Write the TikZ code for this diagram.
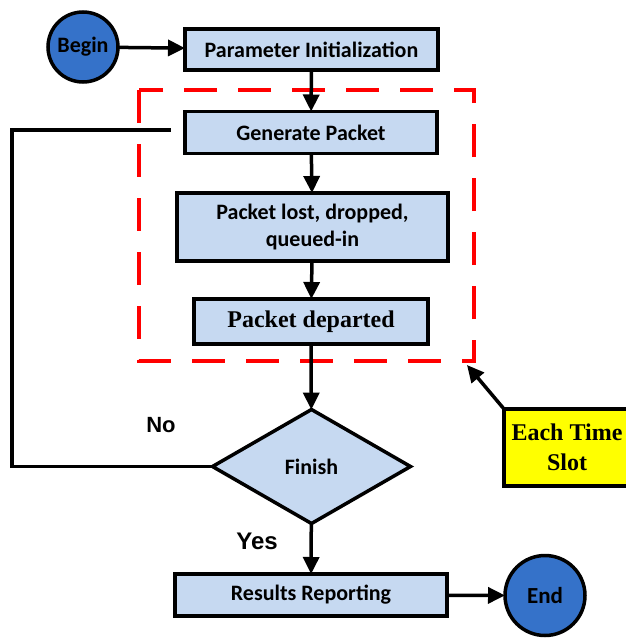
\documentclass[tikz,border=0pt]{standalone}
\usepackage{fontspec}
\setmainfont{Carlito}
\newfontfamily\tmsfont{Liberation Serif}
\newfontfamily\arlfont{Liberation Sans}
\usetikzlibrary{shapes.geometric,arrows.meta}
\definecolor{boxblue}{HTML}{C6D9F1}
\definecolor{circblue}{HTML}{3572C9}
\definecolor{slotyellow}{HTML}{FFFF00}
\begin{document}
\begin{tikzpicture}[x=1pt,y=-1pt,
  proc/.style={draw=black,fill=boxblue,line width=3.5pt,rectangle,inner sep=0pt,outer sep=0pt,align=center,font=\fontsize{22}{27}\selectfont\bfseries},
  term/.style={draw=black,fill=circblue,line width=3.5pt,circle,inner sep=0pt,outer sep=0pt,font=\fontsize{22}{24}\selectfont\bfseries},
  conn/.style={line width=3.5pt,-{Triangle[length=17pt,width=16pt]}},
  lbl/.style={font=\arlfont\fontsize{22}{24}\selectfont\bfseries}]
\useasboundingbox (0,0) rectangle (626,640);
% dashed region
\draw[red,line width=4pt,dash pattern=on 33pt off 21pt] (139,90) rectangle (474,361);
\node[term,minimum size=70pt] (begin) at (83,47) {Begin};
\node[proc,minimum width=253pt,minimum height=41pt] (param) at (311.5,49.5) {Parameter Initialization};
\node[proc,minimum width=252pt,minimum height=42pt] (gen) at (311,132.5) {Generate Packet};
\node[proc,minimum width=271pt,minimum height=68pt] (lost) at (312.5,227) {Packet lost, dropped,\\queued-in};
\node[proc,minimum width=234pt,minimum height=45pt,font=\tmsfont\fontsize{24}{26}\selectfont\bfseries] (dep) at (311,321.5) {Packet departed};
\node[draw=black,fill=boxblue,line width=3.5pt,diamond,inner sep=0pt,outer sep=0pt,minimum width=198pt,minimum height=114pt,font=\fontsize{22}{24}\selectfont\bfseries] (fin) at (311.5,466.5) {Finish};
\node[proc,minimum width=272pt,minimum height=42pt] (res) at (311,595) {Results Reporting};
\node[term,minimum size=80pt,font=\fontsize{23}{24}\selectfont\bfseries] (end) at (545,595.5) {End};
\node[draw=black,fill=slotyellow,line width=3.5pt,rectangle,inner sep=0pt,outer sep=0pt,minimum width=126pt,minimum height=77pt,align=center,font=\tmsfont\fontsize{24}{30}\selectfont\bfseries] (slot) at (567,447.5) {Each Time\\Slot};
\coordinate (corner) at (467,365);
\coordinate (loopend) at (171,130);
\node[lbl] (no) at (161,425) {No};
\node[lbl,font=\arlfont\fontsize{24}{24}\selectfont\bfseries] (yes) at (257,541) {Yes};
% connectors
\draw[conn] (begin) -- (param);
\draw[conn] (param) -- (gen);
\draw[conn] (gen) -- (lost);
\draw[conn] (lost) -- (dep);
\draw[conn] (dep) -- (fin);
\draw[conn] (fin) -- (res);
\draw[conn] (res) -- (end);
\draw[conn] (slot.north west) -- (corner);
\draw[line width=3.5pt] (fin.west) -- (12,466.5) -- (12,130) -- (loopend);
\end{tikzpicture}
\end{document}
